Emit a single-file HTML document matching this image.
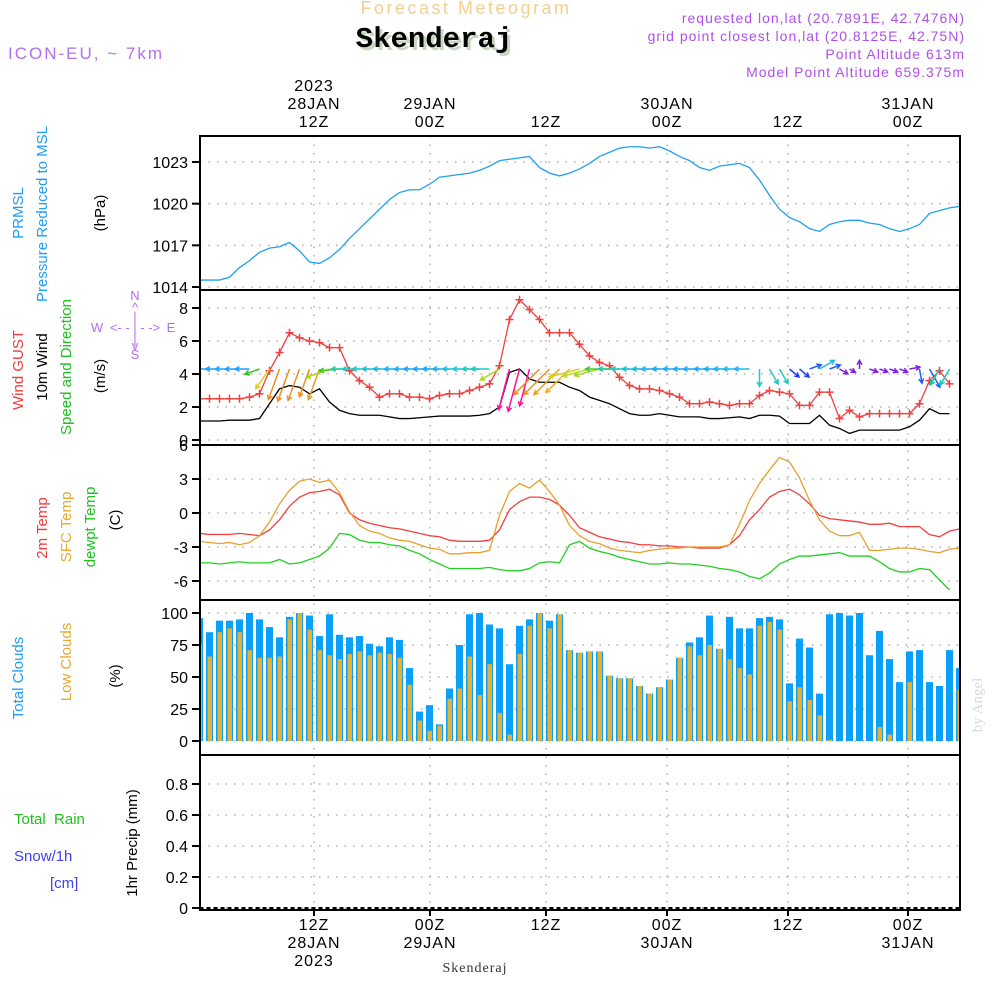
<!DOCTYPE html>
<html><head><meta charset="utf-8">
<style>
html,body{margin:0;padding:0;background:#fff;}
svg{display:block;font-family:"Liberation Sans",sans-serif;}
</style></head>
<body>
<svg id="chart" width="1000" height="1000" viewBox="0 0 1000 1000" xmlns="http://www.w3.org/2000/svg">
<text x="466" y="14" text-anchor="middle" font-size="18" fill="#f3cf8f" letter-spacing="2.5">Forecast Meteogram</text>
<text x="437" y="50" text-anchor="middle" font-size="29" font-weight="bold" font-family="Liberation Mono,monospace" fill="#c8d8c0">Skenderaj</text>
<text x="434" y="47" text-anchor="middle" font-size="29" font-weight="bold" font-family="Liberation Mono,monospace" fill="#000">Skenderaj</text>
<text x="8" y="59" font-size="17" fill="#b070f0" letter-spacing="2">ICON-EU, ~ 7km</text>
<g font-size="14" fill="#b050e8" text-anchor="end" letter-spacing="1">
<text x="965" y="23">requested lon,lat (20.7891E, 42.7476N)</text>
<text x="965" y="41">grid point closest lon,lat (20.8125E, 42.75N)</text>
<text x="965" y="59">Point Altitude 613m</text>
<text x="965" y="77">Model Point Altitude 659.375m</text>
</g>
<g id="grid"></g>
<g id="marks"></g>
<g id="axes"></g>
<g font-size="15">
<text transform="translate(23,213) rotate(-90)" text-anchor="middle" fill="#1e9ef5">PRMSL</text>
<text transform="translate(47,214) rotate(-90)" text-anchor="middle" fill="#1e9ef5">Pressure Reduced to MSL</text>
<text transform="translate(105,213) rotate(-90)" text-anchor="middle" fill="#000">(hPa)</text>
<text transform="translate(23,370) rotate(-90)" text-anchor="middle" fill="#f03c3c">Wind GUST</text>
<text transform="translate(47,367) rotate(-90)" text-anchor="middle" fill="#000">10m Wind</text>
<text transform="translate(71,367) rotate(-90)" text-anchor="middle" fill="#20c020">Speed and Direction</text>
<text transform="translate(105,376) rotate(-90)" text-anchor="middle" fill="#000">(m/s)</text>
<g fill="#b070f0" font-size="13" text-anchor="middle">
<text x="135" y="300">N</text><text x="135" y="312">^</text><text x="135" y="321">|</text>
<text x="97" y="332">W</text><text x="135" y="332">&lt;- - | - -&gt;</text><text x="171" y="332">E</text>
<text x="135" y="344">|</text><text x="135" y="350">v</text><text x="135" y="359">S</text>
</g>
<text transform="translate(47,528) rotate(-90)" text-anchor="middle" fill="#f03c3c">2m Temp</text>
<text transform="translate(71,527) rotate(-90)" text-anchor="middle" fill="#e8a830">SFC Temp</text>
<text transform="translate(95,527) rotate(-90)" text-anchor="middle" fill="#20c020">dewpt Temp</text>
<text transform="translate(120,520) rotate(-90)" text-anchor="middle" fill="#000">(C)</text>
<text transform="translate(23,678) rotate(-90)" text-anchor="middle" fill="#1e9ef5">Total Clouds</text>
<text transform="translate(71,662) rotate(-90)" text-anchor="middle" fill="#e8a830">Low Clouds</text>
<text transform="translate(120,676) rotate(-90)" text-anchor="middle" fill="#000">(%)</text>
<text x="14" y="824" fill="#20c020" xml:space="preserve">Total  Rain</text>
<text x="14" y="861" fill="#4040f0">Snow/1h</text>
<text x="50" y="888" fill="#4040f0">[cm]</text>
<text transform="translate(137,843) rotate(-90)" text-anchor="middle" fill="#000">1hr Precip (mm)</text>
</g>
<text transform="translate(982,705) rotate(-90)" text-anchor="middle" font-size="15" font-family="Liberation Serif,serif" fill="#d8d8d8">by Angel</text>
<text x="475" y="972" text-anchor="middle" font-size="14" font-family="Liberation Serif,serif" fill="#333" letter-spacing="1">Skenderaj</text>
</svg>
<script>
const pressure=[1014.5,1014.5,1014.5,1014.7,1015.4,1015.9,1016.5,1016.8,1016.9,1017.2,1016.6,1015.8,1015.7,1016.1,1016.7,1017.5,1018.2,1018.9,1019.6,1020.3,1020.8,1021.0,1021.0,1021.4,1021.9,1022.0,1022.1,1022.2,1022.4,1022.7,1023.1,1023.2,1023.3,1023.4,1022.6,1022.2,1022.0,1022.2,1022.5,1022.9,1023.4,1023.7,1024.0,1024.1,1024.1,1024.0,1024.1,1023.8,1023.4,1023.1,1022.6,1022.4,1022.7,1022.8,1022.9,1022.6,1021.7,1020.6,1019.6,1019.0,1018.7,1018.2,1018.0,1018.5,1018.7,1018.8,1018.8,1018.6,1018.5,1018.2,1018.0,1018.2,1018.5,1019.3,1019.5,1019.7,1019.8];
const gust=[2.5,2.5,2.5,2.5,2.5,2.6,2.8,4.2,5.3,6.5,6.2,6.0,5.9,5.6,5.6,4.2,3.6,3.2,2.6,2.8,2.8,2.6,2.6,2.5,2.7,2.8,2.8,3.0,3.2,3.4,4.5,7.3,8.5,7.9,7.3,6.5,6.5,6.5,5.8,5.1,4.7,4.5,3.8,3.3,3.1,3.1,3.0,2.8,2.6,2.2,2.2,2.3,2.2,2.1,2.2,2.2,2.7,3.0,2.9,2.8,2.1,2.1,2.9,2.9,1.3,1.8,1.4,1.6,1.6,1.6,1.6,1.6,2.2,3.6,4.2,3.4];
const wind=[1.15,1.15,1.15,1.2,1.2,1.2,1.3,2.2,3.1,3.3,3.2,2.8,3.1,2.3,1.8,1.6,1.5,1.5,1.5,1.4,1.3,1.3,1.35,1.4,1.45,1.45,1.45,1.45,1.5,1.6,2.0,4.1,4.3,3.7,3.5,3.5,3.5,3.2,3.0,2.6,2.4,2.2,1.9,1.6,1.5,1.5,1.6,1.5,1.4,1.4,1.4,1.3,1.3,1.35,1.4,1.3,1.5,1.5,1.45,1.0,1.0,1.0,1.5,0.9,0.7,0.4,0.6,0.6,0.6,0.6,0.6,0.8,1.2,1.9,1.6,1.6];
const windDir=[180,180,180,180,180,180,200,235,250,250,250,250,250,200,185,180,180,180,180,180,180,180,180,180,180,180,180,180,180,180,210,255,255,255,225,225,225,225,195,195,195,180,180,180,180,180,180,180,180,180,180,180,180,180,180,180,270,300,300,320,320,20,30,20,330,330,90,340,340,340,340,10,280,300,240,240];
const windColor=["#1ea0ff","#1ea0ff","#1ea0ff","#1ea0ff","#1ea0ff","#1ea0ff","#30c020","#d8d020","#f09020","#f09020","#f09020","#f09020","#e8a020","#b0d020","#40c820","#20c8a0","#20c8c0","#20c8c0","#20c0d0","#20b8e0","#20b0f0","#20b0f0","#20a8f8","#20a8f8","#20a8f8","#20b0f0","#20c0e0","#20c8d0","#20c8c0","#20c8c0","#b0d820","#ff10a0","#ff10a0","#ff10a0","#f09020","#f09020","#f0a020","#f0b020","#d8d020","#c0d820","#a0d820","#40c840","#20c8a0","#20c8c0","#20c0d0","#20b8e0","#20b0f0","#20a8f8","#20a8f8","#20a8f8","#20a8f8","#20a8f8","#20a8f8","#20b0f0","#20b8f0","#20b8f0","#20c8d0","#20c8c0","#20c8c0","#2040f0","#2040f0","#2060f0","#20b8e0","#2060f0","#8020e0","#8020e0","#8020e0","#8020e0","#8020e0","#8020e0","#8020e0","#8020e0","#2060f0","#2060f0","#20c0a0","#20c8c0"];
const t2m=[-1.8,-1.9,-1.9,-1.9,-1.8,-1.9,-2.0,-1.5,-0.6,0.6,1.4,1.8,1.9,2.1,1.6,0.0,-0.6,-0.9,-1.1,-1.3,-1.4,-1.6,-1.8,-2.0,-2.1,-2.4,-2.5,-2.5,-2.5,-2.4,-1.5,0.3,1.0,1.4,1.4,1.2,0.7,-0.2,-1.3,-1.7,-2.1,-2.3,-2.5,-2.6,-2.8,-2.8,-2.9,-2.9,-3.0,-3.0,-3.1,-3.1,-3.1,-2.8,-2.0,-0.6,0.3,1.4,1.9,2.1,1.6,0.8,-0.2,-0.5,-0.6,-0.7,-0.8,-1.0,-1.0,-0.9,-1.2,-1.2,-1.2,-1.9,-2.1,-1.6,-1.4];
const tsfc=[-2.5,-2.6,-2.7,-2.6,-2.8,-2.6,-2.0,-0.8,0.8,2.0,2.8,3.0,2.7,2.9,1.8,0.1,-1.1,-1.6,-1.8,-2.2,-2.4,-2.5,-2.8,-3.1,-3.2,-3.6,-3.6,-3.5,-3.5,-3.3,-0.2,1.9,2.6,2.2,2.9,1.9,0.7,-1.1,-2.0,-2.5,-2.7,-3.1,-3.3,-3.4,-3.5,-3.3,-3.2,-3.1,-3.1,-3.0,-3.0,-3.0,-3.0,-2.8,-1.0,1.1,2.6,3.8,4.9,4.5,3.1,1.1,-0.6,-1.6,-2.0,-2.0,-1.7,-3.3,-3.3,-3.2,-3.1,-3.1,-3.2,-3.4,-3.5,-3.2,-3.1];
const tdew=[-4.4,-4.4,-4.5,-4.4,-4.3,-4.4,-4.4,-4.4,-4.1,-4.5,-4.4,-4.1,-3.8,-3.1,-1.8,-1.9,-2.4,-2.6,-2.6,-2.8,-2.9,-3.3,-3.6,-4.1,-4.5,-4.9,-4.9,-4.9,-4.9,-4.8,-5.0,-5.1,-5.1,-4.9,-4.4,-4.3,-4.4,-2.8,-2.5,-3.1,-3.4,-3.6,-3.9,-4.1,-4.3,-4.5,-4.5,-4.4,-4.5,-4.5,-4.6,-4.7,-4.9,-5.0,-5.2,-5.6,-5.8,-5.3,-4.5,-4.1,-3.8,-3.8,-3.7,-3.6,-3.5,-3.8,-3.8,-3.8,-4.3,-4.9,-5.2,-5.2,-4.9,-5.0,-5.9,-6.8];
const totalClouds=[96,85,94,94,95,100,95,89,81,97,100,98,82,99,83,81,82,76,74,81,79,57,23,28,13,41,75,99,100,91,88,60,90,95,100,94,99,71,69,70,70,51,49,49,43,37,42,48,65,77,81,98,72,97,88,88,96,97,95,45,80,73,37,99,100,98,100,67,86,64,46,70,71,46,43,71,57];
const lowClouds=[76,66,85,88,85,71,65,65,66,95,100,87,71,67,64,68,70,67,69,68,65,44,16,8,12,33,41,66,36,60,22,5,68,90,100,88,99,71,69,70,70,51,49,49,43,37,42,48,65,74,67,75,72,64,57,52,90,93,87,31,42,32,20,1,0,0,0,0,11,5,0,46,0,0,0,0,40];
const precip=new Array(77).fill(0);
const pTicks=[1014,1017,1020,1023];
const wTicks=[0,2,4,6,8];
const tTicks=[6,3,0,-3,-6];
const cTicks=[0,25,50,75,100];
const rTicks=[0,0.2,0.4,0.6,0.8];
const timeTickIdx=[11.45,23.05,34.65,46.75,58.85,70.85];
const timeHours=["12Z","00Z","12Z","00Z","12Z","00Z"];
const timeDays=["28JAN","29JAN","","30JAN","","31JAN"];
const timeYears=["2023","","","","",""];

const NS="http://www.w3.org/2000/svg";
const L=200,R=960;
const X=i=>199.5+10*i;
const lin=(d0,d1,r0,r1)=>v=>r0+(v-d0)*(r1-r0)/(d1-d0);
const Yp=lin(1014,1023,287,162), Yw=lin(0,8,440,308), Yt=lin(0,3,513,479), Yc=lin(0,100,741,613), Yr=lin(0,0.8,908,784);
const panels=[[136,290],[290,445],[445,600],[600,755],[755,910]];
const grid=document.getElementById('grid'),marks=document.getElementById('marks'),axes=document.getElementById('axes');
function el(tag,attrs,parent){const e=document.createElementNS(NS,tag);for(const k in attrs)e.setAttribute(k,attrs[k]);parent.appendChild(e);return e;}
const dot={stroke:"#b0b0b0","stroke-width":1.5,"stroke-dasharray":"1.5 7"};
const defs=el('defs',{},marks);
const cp=el('clipPath',{id:'plotclip'},defs);el('rect',{x:L,y:136,width:R-L,height:774},cp);
const mg=el('g',{'clip-path':'url(#plotclip)'},marks);

function hgrid(ticks,Y){ticks.forEach(v=>{const g=el('line',Object.assign({x1:L,x2:R,y1:Y(v),y2:Y(v)},dot),grid);

});}
hgrid(pTicks,Yp);hgrid(wTicks,Yw);hgrid(tTicks,Yt);hgrid(cTicks,Yc);hgrid(rTicks,Yr);
timeTickIdx.forEach(t=>{const g=el('line',Object.assign({x1:X(t),x2:X(t),y1:136,y2:910},dot),grid);

});

function yTicks(ticks,Y,fmt,name){ticks.forEach(v=>{const t=el('text',{x:188,y:Y(v)+6,'text-anchor':'end','font-size':16,fill:'#000'},axes);t.textContent=fmt(v);


const tk=el('line',{x1:192,x2:200,y1:Y(v),y2:Y(v),stroke:'#000','stroke-width':2},axes);

});}
yTicks(pTicks,Yp,v=>v,'pressure-tick-label');
yTicks(wTicks,Yw,v=>v,'wind-tick-label');
yTicks(tTicks,Yt,v=>v,'temp-tick-label');
yTicks(cTicks,Yc,v=>v,'cloud-tick-label');
yTicks(rTicks,Yr,v=>v===0?'0':v.toFixed(1),'precip-tick-label');

totalClouds.forEach((v,i)=>{const r=el('rect',{x:X(i)-3.5,y:Yc(v),width:7,height:Yc(0)-Yc(v),fill:'#0aa0f8'},mg);

});
lowClouds.forEach((v,i)=>{if(v<=0)return;const r=el('rect',{x:X(i)-2,y:Yc(v),width:4.5,height:Yc(0)-Yc(v),fill:'#e8b030'},mg);

});

function line(data,Y,color,name,w){const p=el('polyline',{points:data.map((v,i)=>X(i)+','+Y(v)).join(' '),fill:'none',stroke:color,'stroke-width':w||1.3},mg);

return p;}
line(pressure,Yp,'#1ea0f0','pressure-line');
line(wind,Yw,'#000','wind-speed-line');
line(gust,Yw,'#f04040','gust-line');
gust.forEach((v,i)=>{const g=el('path',{d:`M${X(i)-4},${Yw(v)}h8M${X(i)},${Yw(v)-4}v8`,stroke:'#f04040','stroke-width':1.5},mg);

});
wind.forEach((s,i)=>{const a=windDir[i]*Math.PI/180,len=9.5*s+3;const x0=X(i),y0=369;const x1=x0+len*Math.cos(a),y1=y0-len*Math.sin(a);
const h=5,b1=a+Math.PI-0.5,b2=a+Math.PI+0.5;
const ar=el('path',{d:`M${x0},${y0}L${x1},${y1}M${x1+h*Math.cos(b1)},${y1-h*Math.sin(b1)}L${x1},${y1}L${x1+h*Math.cos(b2)},${y1-h*Math.sin(b2)}`,fill:'none',stroke:windColor[i],'stroke-width':1.5},mg);

});
line(t2m,Yt,'#f04040','t2m-line');
line(tsfc,Yt,'#e8a030','sfc-temp-line');
line(tdew,Yt,'#20d020','dewpoint-line');
const pl=el('polyline',{points:precip.map((v,i)=>X(i)+','+Yr(v)).join(' '),fill:'none',stroke:'#000','stroke-width':2,'stroke-dasharray':'4 3'},mg);



panels.forEach(([a,b])=>{const f=el('rect',{x:L,y:a,width:R-L,height:b-a,fill:'none',stroke:'#000','stroke-width':2},axes);

});
timeTickIdx.forEach((t,j)=>{const x=X(t);
[[timeYears[j],86],[timeDays[j],104],[timeHours[j],122]].forEach(([s,y])=>{if(!s)return;const tx=el('text',{x:x,y:y+5,'text-anchor':'middle','font-size':16,fill:'#000','letter-spacing':1},axes);tx.textContent=s;

});
[[timeHours[j],925],[timeDays[j],943],[timeYears[j],961]].forEach(([s,y])=>{if(!s)return;const tx=el('text',{x:x,y:y+5,'text-anchor':'middle','font-size':16,fill:'#000','letter-spacing':1},axes);tx.textContent=s;

});
const tk=el('line',{x1:x,x2:x,y1:910,y2:916,stroke:'#000','stroke-width':2},axes);

});
</script>
</body></html>
